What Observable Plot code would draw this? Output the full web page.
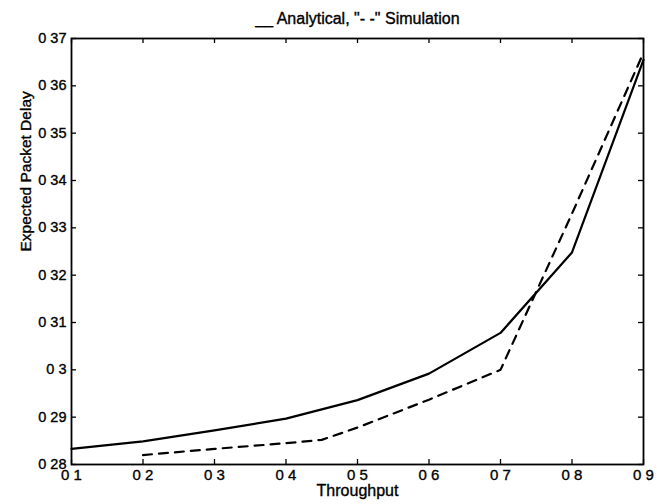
<!DOCTYPE html>
<html><head><meta charset="utf-8">
<script src="https://cdn.jsdelivr.net/npm/d3@7"></script>
<script src="https://cdn.jsdelivr.net/npm/@observablehq/plot@0.6"></script>
<style>
body{margin:0;background:#fff}
#chart svg text{stroke:#000;stroke-width:0.35px}
</style>
</head><body><div id="chart"></div>
<script>
const titleText = '__ Analytical, "- -" Simulation';
const xLabel = "Throughput";
const yLabel = "Expected Packet Delay";

const analyticalX = [0.1, 0.2, 0.3, 0.4, 0.5, 0.6, 0.7, 0.8, 0.9];
const analyticalY = [0.2833, 0.2849, 0.2872, 0.2897, 0.2936, 0.2992, 0.3078, 0.3248, 0.3655];

const simulationX = [0.2, 0.3, 0.4, 0.45, 0.5, 0.6, 0.7, 0.8, 0.9];
const simulationY = [0.2820, 0.2833, 0.2845, 0.2852, 0.2878, 0.2937, 0.3000, 0.3330, 0.3670];

const xTicks = [0.1, 0.2, 0.3, 0.4, 0.5, 0.6, 0.7, 0.8, 0.9];
const xTickLabels = ["0 1", "0 2", "0 3", "0 4", "0 5", "0 6", "0 7", "0 8", "0 9"];
const yTicks = [0.28, 0.29, 0.30, 0.31, 0.32, 0.33, 0.34, 0.35, 0.36, 0.37];
const yTickLabels = ["0 28", "0 29", "0 3", "0 31", "0 32", "0 33", "0 34", "0 35", "0 36", "0 37"];

const analytical = analyticalX.map((x, i) => ({x, y: analyticalY[i]}));
const simulation = simulationX.map((x, i) => ({x, y: simulationY[i]}));

const W = 657, H = 504;
const mL = 71, mR = 14, mT = 38, mB = 40;
const innerW = W - mL - mR, innerH = H - mT - mB;
const tick = 5;

const chart = Plot.plot({
  width: W, height: H,
  marginLeft: mL, marginRight: mR, marginTop: mT, marginBottom: mB,
  style: {fontFamily: "'Liberation Sans', Arial, sans-serif", fontSize: "15px", color: "black", background: "white"},
  x: {domain: [0.1, 0.9], label: null},
  y: {domain: [0.28, 0.37], label: null},
  marks: [
    Plot.frame({stroke: "black", strokeWidth: 1.8}),
    Plot.ruleX(xTicks, {x: d => d, insetTop: innerH - tick, stroke: "black", strokeWidth: 1.3}),
    Plot.ruleX(xTicks, {x: d => d, insetBottom: innerH - tick, stroke: "black", strokeWidth: 1.3}),
    Plot.ruleY(yTicks, {y: d => d, insetRight: innerW - tick, stroke: "black", strokeWidth: 1.3}),
    Plot.ruleY(yTicks, {y: d => d, insetLeft: innerW - tick, stroke: "black", strokeWidth: 1.3}),
    Plot.axisX({ticks: xTicks, tickSize: 0, tickPadding: 5, tickFormat: (d, i) => xTickLabels[i], fontSize: 15, label: null}),
    Plot.axisY({ticks: yTicks, tickSize: 0, tickPadding: 5, tickFormat: (d, i) => yTickLabels[i], fontSize: 14.5, label: null}),
    Plot.line(analytical, {x: "x", y: "y", stroke: "black", strokeWidth: 2.2}),
    Plot.line(simulation, {x: "x", y: "y", stroke: "black", strokeWidth: 2.2, strokeDasharray: "9,7"}),
    Plot.text([titleText], {text: d => d, frameAnchor: "top", dy: -26, fontSize: 16}),
    Plot.text([xLabel], {text: d => d, frameAnchor: "bottom", dy: 31, fontSize: 16}),
    Plot.text([yLabel], {text: d => d, frameAnchor: "left", dx: -45, rotate: -90, fontSize: 15.5})
  ]
});
document.getElementById("chart").appendChild(chart);
</script>
</body></html>
